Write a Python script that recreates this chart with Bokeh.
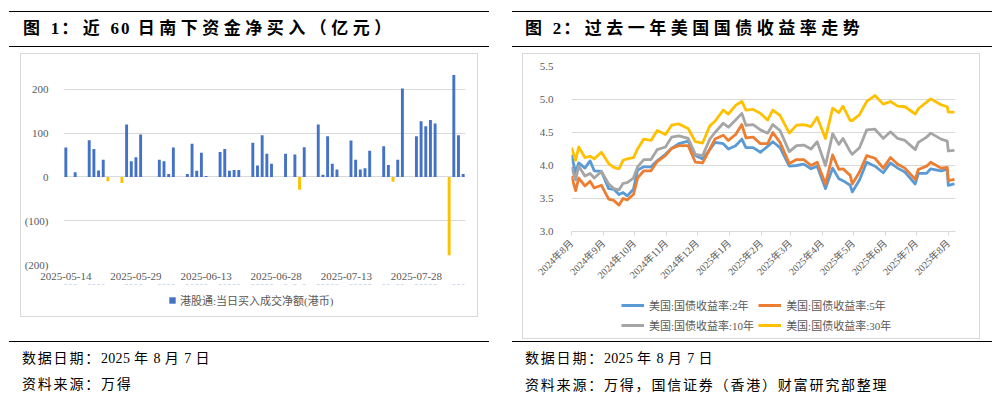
import re
import pandas as pd
from math import pi
from bokeh.plotting import figure
from bokeh.layouts import column, row
from bokeh.models import (Div, Spacer, Range1d, FixedTicker, Legend, LegendItem,
                          NumeralTickFormatter)
from bokeh.embed import file_html
from bokeh.resources import INLINE

# ---------------- data: figure 1 (southbound net buying, 100m) ----------------
flow_dates = [
    "2025-05-14", "2025-05-15", "2025-05-16",
    "2025-05-19", "2025-05-20", "2025-05-21", "2025-05-22", "2025-05-23",
    "2025-05-26", "2025-05-27", "2025-05-28", "2025-05-29", "2025-05-30",
    "2025-06-03", "2025-06-04", "2025-06-05", "2025-06-06",
    "2025-06-09", "2025-06-10", "2025-06-11", "2025-06-12", "2025-06-13",
    "2025-06-16", "2025-06-17", "2025-06-18", "2025-06-19", "2025-06-20",
    "2025-06-23", "2025-06-24", "2025-06-25", "2025-06-26", "2025-06-27",
    "2025-06-30", "2025-07-02", "2025-07-03", "2025-07-04",
    "2025-07-07", "2025-07-08", "2025-07-09", "2025-07-10", "2025-07-11",
    "2025-07-14", "2025-07-15", "2025-07-16", "2025-07-17", "2025-07-18",
    "2025-07-21", "2025-07-22", "2025-07-23", "2025-07-24", "2025-07-25",
    "2025-07-28", "2025-07-29", "2025-07-30", "2025-07-31", "2025-08-01",
    "2025-08-04", "2025-08-05", "2025-08-06", "2025-08-07",
]
flow_values = [
    67, 0, 11,
    84, 64, 15, 39, -10,
    -14, 120, 36, 45, 97,
    39, 36, 7, 67,
    7, 76, 14, 55, 2,
    57, 64, 14, 16, 16,
    78, 26, 95, 53, 30,
    53, 51, -29, 68,
    120, 5, 93, 30, 17,
    83, 39, 17, 20, 60,
    70, 27, -11, 39, 202,
    93, 127, 116, 130, 122,
    -179, 233, 95, 7,
]
flow_tick_dates = ["2025-05-14", "2025-05-29", "2025-06-13",
                   "2025-06-28", "2025-07-13", "2025-07-28"]
flow_y_ticks = [-200, -100, 0, 100, 200]
flow_y_max = 250
flow_legend = "港股通:当日买入成交净额(港币)"

# ---------------- data: figure 2 (US Treasury yields, %) ----------------
yield_dates = [
    "2024-08-01", "2024-08-05", "2024-08-08", "2024-08-14", "2024-08-19",
    "2024-08-23", "2024-08-30", "2024-09-06", "2024-09-11", "2024-09-16",
    "2024-09-20", "2024-09-24", "2024-09-30", "2024-10-04", "2024-10-10",
    "2024-10-17", "2024-10-23", "2024-10-31", "2024-11-06", "2024-11-13",
    "2024-11-22", "2024-11-29", "2024-12-06", "2024-12-13", "2024-12-18",
    "2024-12-26", "2024-12-31", "2025-01-07", "2025-01-13", "2025-01-17",
    "2025-01-24", "2025-01-31", "2025-02-07", "2025-02-12", "2025-02-19",
    "2025-02-28", "2025-03-07", "2025-03-14", "2025-03-21", "2025-03-27",
    "2025-04-04", "2025-04-11", "2025-04-17", "2025-04-21", "2025-04-28",
    "2025-04-30", "2025-05-07", "2025-05-14", "2025-05-22", "2025-05-30",
    "2025-06-06", "2025-06-13", "2025-06-20", "2025-06-30", "2025-07-03",
    "2025-07-11", "2025-07-15", "2025-07-25", "2025-07-31", "2025-08-01",
    "2025-08-07",
]
ust_2y = [
    4.16, 3.89, 4.04, 3.96, 4.07, 3.92, 3.91, 3.65, 3.64, 3.56,
    3.59, 3.54, 3.64, 3.93, 3.98, 3.98, 4.07, 4.17, 4.26, 4.33,
    4.37, 4.15, 4.10, 4.24, 4.35, 4.33, 4.25, 4.30, 4.40, 4.27,
    4.27, 4.20, 4.29, 4.36, 4.27, 3.99, 4.00, 4.02, 3.95, 3.99,
    3.65, 3.96, 3.80, 3.77, 3.70, 3.60, 3.78, 4.05, 3.99, 3.89,
    4.04, 3.96, 3.90, 3.72, 3.88, 3.88, 3.95, 3.92, 3.94, 3.70,
    3.72,
]
ust_5y = [
    3.84, 3.62, 3.81, 3.69, 3.76, 3.66, 3.70, 3.49, 3.47, 3.40,
    3.50, 3.48, 3.56, 3.81, 3.92, 3.92, 4.06, 4.15, 4.26, 4.30,
    4.30, 4.05, 4.04, 4.25, 4.40, 4.46, 4.38, 4.47, 4.62, 4.42,
    4.43, 4.33, 4.33, 4.50, 4.35, 4.03, 4.09, 4.09, 4.00, 4.05,
    3.72, 4.16, 3.94, 3.95, 3.85, 3.72, 3.90, 4.15, 4.11, 3.96,
    4.12, 4.02, 3.96, 3.79, 3.94, 3.99, 4.05, 3.96, 3.97, 3.77,
    3.79,
]
ust_10y = [
    3.98, 3.78, 3.99, 3.84, 3.88, 3.81, 3.91, 3.72, 3.65, 3.63,
    3.73, 3.74, 3.81, 3.98, 4.09, 4.09, 4.24, 4.28, 4.43, 4.45,
    4.41, 4.17, 4.15, 4.40, 4.50, 4.64, 4.58, 4.69, 4.79, 4.61,
    4.62, 4.54, 4.49, 4.62, 4.53, 4.21, 4.30, 4.31, 4.25, 4.36,
    4.00, 4.48, 4.32, 4.41, 4.21, 4.17, 4.27, 4.54, 4.55, 4.41,
    4.51, 4.41, 4.38, 4.24, 4.35, 4.43, 4.49, 4.40, 4.37, 4.22,
    4.23,
]
ust_30y = [
    4.27, 4.08, 4.28, 4.12, 4.14, 4.10, 4.20, 4.03, 3.97, 3.95,
    4.08, 4.10, 4.12, 4.25, 4.40, 4.38, 4.53, 4.47, 4.61, 4.63,
    4.56, 4.36, 4.34, 4.60, 4.67, 4.84, 4.78, 4.91, 4.97, 4.84,
    4.85, 4.79, 4.69, 4.84, 4.76, 4.49, 4.61, 4.62, 4.59, 4.73,
    4.41, 4.87, 4.80, 4.90, 4.68, 4.68, 4.77, 4.97, 5.06, 4.93,
    4.97, 4.90, 4.89, 4.78, 4.86, 4.96, 5.01, 4.92, 4.89, 4.81,
    4.81,
]
month_ticks = ["2024-08-01", "2024-09-01", "2024-10-01", "2024-11-01",
               "2024-12-01", "2025-01-01", "2025-02-01", "2025-03-01",
               "2025-04-01", "2025-05-01", "2025-06-01", "2025-07-01",
               "2025-08-01"]
yield_y_ticks = [3.0, 3.5, 4.0, 4.5, 5.0, 5.5]
series_names = ["美国:国债收益率:2年", "美国:国债收益率:5年",
                "美国:国债收益率:10年", "美国:国债收益率:30年"]
series_colors = ["#5B9BD5", "#ED7D31", "#A5A5A5", "#FFC000"]

title1 = "图 1：近 60 日南下资金净买入（亿元）"
title2 = "图 2：过去一年美国国债收益率走势"
foot1 = ["数据日期：2025 年 8 月 7 日", "资料来源：万得"]
foot2 = ["数据日期：2025 年 8 月 7 日", "资料来源：万得，国信证券（香港）财富研究部整理"]

# ---------------- styling ----------------
SERIF = "'Liberation Serif', 'Noto Sans CJK SC'"
GRID = "#d9d9d9"
TXT = "#595959"
BOX = {"border": "1px solid #d9d9d9", "background": "#ffffff"}
BAR_BLUE, BAR_NEG = "#4472C4", "#FFC000"


def legend_strip(height, x_range, y_range):
    # a bare strip (no axes) that only carries a legend; its ranges keep the
    # proxy series outside the visible area so only the legend shows
    f = figure(width=456, height=height, output_backend="svg", toolbar_location=None,
               x_range=x_range, y_range=y_range,
               x_axis_location=None, y_axis_location=None,
               min_border=0, min_border_left=0, min_border_right=0,
               min_border_top=0, min_border_bottom=0)
    f.grid.visible = False
    f.outline_line_color = None
    return f


# ---------------- figure 1 ----------------
f_start = pd.Timestamp(flow_dates[0])
flow_x = [(pd.Timestamp(d) - f_start).days for d in flow_dates]
f_span = (pd.Timestamp(flow_dates[-1]) - f_start).days
pos_x = [x for x, v in zip(flow_x, flow_values) if v >= 0]
pos_v = [v for v in flow_values if v >= 0]
neg_x = [x for x, v in zip(flow_x, flow_values) if v < 0]
neg_v = [v for v in flow_values if v < 0]
tick_x = [(pd.Timestamp(d) - f_start).days for d in flow_tick_dates]

p1 = figure(width=456, height=230, output_backend="svg", toolbar_location=None,
            x_range=Range1d(-0.5, f_span + 0.5),
            y_range=Range1d(flow_y_ticks[0], flow_y_max),
            min_border_left=41, min_border_right=12, min_border_top=13,
            min_border_bottom=20)
p1.outline_line_color = None
p1.vbar(x=pos_x, top=pos_v, bottom=0, width=0.62, fill_color=BAR_BLUE, line_color=None)
p1.vbar(x=neg_x, top=neg_v, bottom=0, width=0.62, fill_color=BAR_NEG, line_color=None)

p1.xaxis.ticker = FixedTicker(ticks=tick_x)
p1.xaxis.major_label_overrides = {t: d for t, d in zip(tick_x, flow_tick_dates)}
p1.xaxis.axis_line_color = None
p1.xaxis.major_tick_line_color = None
p1.xaxis.major_tick_out = 0
p1.xaxis.major_tick_in = 0
p1.xaxis.minor_tick_line_color = None
p1.xaxis.major_label_standoff = 8
p1.yaxis.ticker = FixedTicker(ticks=flow_y_ticks)
p1.yaxis.major_label_overrides = {t: (f"({-t})" if t < 0 else str(t)) for t in flow_y_ticks}
p1.yaxis.axis_line_color = None
p1.yaxis.major_tick_line_color = None
p1.yaxis.minor_tick_line_color = None
p1.yaxis.major_label_standoff = 9
for ax in (p1.xaxis[0], p1.yaxis[0]):
    ax.major_label_text_font = SERIF
    ax.major_label_text_font_size = "11px"
    ax.major_label_text_color = TXT
p1.xgrid.grid_line_color = None
p1.ygrid.grid_line_color = GRID

# legend strip: the proxy uses the real positive bars, kept below the strip's range
lf1 = legend_strip(32, Range1d(-0.5, f_span + 0.5), Range1d(-2, -1))
lr1 = lf1.vbar(x=pos_x, top=pos_v, bottom=0, width=0.62,
               fill_color=BAR_BLUE, line_color=None)
lf1.add_layout(Legend(items=[LegendItem(label=flow_legend, renderers=[lr1])],
                      location=(105, 8), orientation="horizontal",
                      glyph_width=8, glyph_height=8, label_height=12,
                      label_standoff=4, padding=5, margin=0, border_line_color=None,
                      background_fill_alpha=0, label_text_font_size="11px",
                      label_text_color=TXT, label_text_font=SERIF), "center")

# ---------------- figure 2 ----------------
y_start = pd.Timestamp(month_ticks[0])
yx = [(pd.Timestamp(d) - y_start).days for d in yield_dates]
mt_x = [(pd.Timestamp(d) - y_start).days for d in month_ticks]
mt_lab = [f"{pd.Timestamp(d).year}年{pd.Timestamp(d).month}月" for d in month_ticks]
all_series = [ust_2y, ust_5y, ust_10y, ust_30y]

p2 = figure(width=456, height=238, output_backend="svg", toolbar_location=None,
            x_range=Range1d(yx[0], yx[-1] + 1),
            y_range=Range1d(yield_y_ticks[0], yield_y_ticks[-1]),
            min_border_left=48, min_border_right=24, min_border_top=12,
            min_border_bottom=61)
p2.outline_line_color = None
for ys, col in zip(all_series, series_colors):
    p2.line(yx, ys, line_color=col, line_width=2.8, line_join="round")

p2.xaxis.ticker = FixedTicker(ticks=mt_x)
p2.xaxis.major_label_overrides = {t: l for t, l in zip(mt_x, mt_lab)}
p2.xaxis.major_label_orientation = pi / 4
p2.xaxis.axis_line_color = GRID
p2.xaxis.major_tick_line_color = GRID
p2.xaxis.major_tick_out = 4
p2.xaxis.major_tick_in = 0
p2.xaxis.minor_tick_line_color = None
p2.xaxis.major_label_standoff = 6
p2.xaxis.major_label_text_font_size = "10px"
p2.yaxis.ticker = FixedTicker(ticks=yield_y_ticks)
p2.yaxis.formatter = NumeralTickFormatter(format="0.0")
p2.yaxis.axis_line_color = None
p2.yaxis.major_tick_line_color = None
p2.yaxis.minor_tick_line_color = None
p2.yaxis.major_label_standoff = 12
p2.yaxis.major_label_text_font_size = "11px"
for ax in (p2.xaxis[0], p2.yaxis[0]):
    ax.major_label_text_font = SERIF
    ax.major_label_text_color = TXT
p2.xgrid.grid_line_color = None
p2.ygrid.grid_line_color = GRID

# legend strip: proxies are the real series, which lie above the strip's (0..1) range
lf2 = legend_strip(46, Range1d(yx[0], yx[-1] + 1), Range1d(0, 1))
items = []
for ys, name, col in zip(all_series, series_names, series_colors):
    r = lf2.line(yx, ys, line_color=col, line_width=3)
    items.append(LegendItem(label=name, renderers=[r]))
lf2.add_layout(Legend(items=items, location=(50, 5), orientation="horizontal", ncols=2,
                      glyph_width=23, glyph_height=16, label_height=16, label_standoff=5,
                      spacing=4, padding=4, margin=0, border_line_color=None,
                      background_fill_alpha=0, label_text_font_size="11px",
                      label_text_color=TXT, label_text_font=SERIF), "center")


# ---------------- text blocks ----------------
def tight_digits(text, ls):
    return re.sub(r"([0-9 ]+)", rf'<span style="letter-spacing:{ls}px">\1</span>', text)


def title_div(text, width, inset, pad):
    html = (f'<div style="position:relative;width:{width + inset}px;height:39px;">'
            f'<div style="position:absolute;box-sizing:border-box;left:{inset}px;top:3px;'
            f'width:{width}px;height:36px;border-top:1px solid #000;border-bottom:1px solid #000;'
            f'padding-left:{pad}px;font-family:{SERIF};font-weight:bold;font-size:17px;'
            f'letter-spacing:4.5px;line-height:34px;color:#000;white-space:nowrap;">'
            f'{tight_digits(text, 2)}</div></div>')
    return Div(text=html, width=width + inset, height=39, margin=0)


def foot_div(lines, width, inset, pad, height, rule_top, tops):
    parts = [f'<div style="position:absolute;left:{inset}px;top:{rule_top}px;width:{width}px;'
             f'border-top:1px solid #000;"></div>']
    for line, top in zip(lines, tops):
        parts.append(f'<div style="position:absolute;left:{inset + pad}px;top:{top}px;'
                     f'line-height:16px;white-space:nowrap;font-family:{SERIF};font-size:14px;'
                     f'letter-spacing:1.8px;color:#000;">{tight_digits(line, 0.3)}</div>')
    html = (f'<div style="position:relative;width:{width + inset}px;height:{height}px;">'
            + "".join(parts) + "</div>")
    return Div(text=html, width=width + inset, height=height, margin=0)


t1 = title_div(title1, 480, 1, 14)
t2 = title_div(title2, 480, 0, 13)
f1 = foot_div(foot1, 480, 1, 13, 73, 24, [34, 60])
f2 = foot_div(foot2, 480, 0, 13, 51, 2, [12, 39])

box1 = column(p1, lf1, styles=BOX)
box2 = column(p2, lf2, styles=BOX)
left = column(t1, Spacer(height=6), row(Spacer(width=12), box1), f1)
right = column(t2, Spacer(height=6), row(Spacer(width=10), box2), f2)
page = column(Spacer(height=8),
              row(Spacer(width=8), left, Spacer(width=23), right))

open("out.html", "w").write(file_html(page, INLINE))
